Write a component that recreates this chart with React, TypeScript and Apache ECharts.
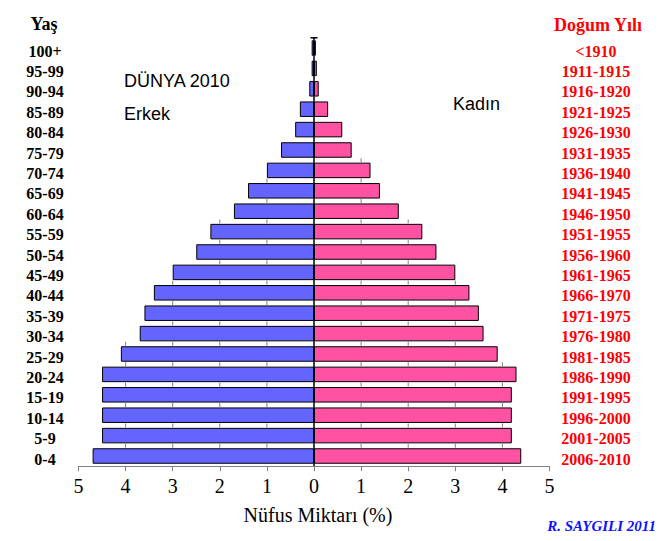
import React, { useEffect, useRef } from "react";
import * as echarts from "echarts";

const ages = ["0-4", "5-9", "10-14", "15-19", "20-24", "25-29", "30-34", "35-39", "40-44", "45-49", "50-54", "55-59", "60-64", "65-69", "70-74", "75-79", "80-84", "85-89", "90-94", "95-99", "100+"];
const birthYears = ["2006-2010", "2001-2005", "1996-2000", "1991-1995", "1986-1990", "1981-1985", "1976-1980", "1971-1975", "1966-1970", "1961-1965", "1956-1960", "1951-1955", "1946-1950", "1941-1945", "1936-1940", "1931-1935", "1926-1930", "1921-1925", "1916-1920", "1911-1915", "<1910"];
const male = [4.7, 4.5, 4.5, 4.5, 4.5, 4.1, 3.7, 3.6, 3.4, 3.0, 2.5, 2.2, 1.7, 1.4, 1.0, 0.7, 0.4, 0.3, 0.1, 0.05, 0.05];
const female = [4.4, 4.2, 4.2, 4.2, 4.3, 3.9, 3.6, 3.5, 3.3, 3.0, 2.6, 2.3, 1.8, 1.4, 1.2, 0.8, 0.6, 0.3, 0.1, 0.06, 0.04];
const gridValues = [1, 2, 3, 4];

const SERIF = "'Liberation Serif', 'Times New Roman', serif";
const SANS = "'Liberation Sans', Arial, sans-serif";
const BAR_W = 15.5;

export default function App() {
  const ref = useRef<HTMLDivElement>(null);
  useEffect(() => {
    if (!ref.current) return;
    const chart = echarts.init(ref.current, null, { renderer: "svg" });

    const gridSegs: number[][] = [];
    ages.forEach((_, i) => {
      gridValues.forEach((k) => {
        if (female[i] > k) gridSegs.push([k, i]);
        if (male[i] > k) gridSegs.push([-k, i]);
      });
    });

    const labelRich = (color: string) => ({
      t: {
        padding: [6, 0, 0, 0],
        fontFamily: SERIF,
        fontWeight: "bold",
        fontSize: 16,
        color,
      },
    });

    const option: any = {
      animation: false,
      backgroundColor: "#ffffff",
      grid: { left: 78.5, right: 116.5, top: 37.8, bottom: 74.8, containLabel: false, outerBoundsMode: "none" },
      xAxis: {
        type: "value",
        min: -5,
        max: 5,
        interval: 1,
        name: "Nüfus Miktarı (%)",
        nameLocation: "middle",
        nameGap: 39,
        nameTextStyle: { fontFamily: SERIF, fontSize: 20, color: "#000", padding: [0, 0, 0, 8] },
        axisLine: { show: true, onZero: false, lineStyle: { color: "#808080", width: 1 } },
        axisTick: { show: true, length: 5, lineStyle: { color: "#808080", width: 1 } },
        splitLine: { show: false },
        axisLabel: {
          margin: 10,
          fontFamily: SERIF,
          fontSize: 20,
          color: "#000",
          formatter: (v: number) => String(Math.abs(v)),
        },
      },
      yAxis: [
        {
          type: "category",
          data: ages,
          position: "left",
          axisLine: { show: false, onZero: false },
          axisTick: { show: false },
          splitLine: { show: false },
          axisLabel: {
            align: "center",
            margin: 33.5,
            formatter: (v: string) => `{t|${v}}`,
            rich: labelRich("#000"),
          },
        },
        {
          type: "category",
          data: birthYears,
          position: "right",
          axisLine: { show: false, onZero: false },
          axisTick: { show: false },
          splitLine: { show: false },
          axisLabel: {
            align: "center",
            margin: 46.5,
            formatter: (v: string) => `{t|${v}}`,
            rich: labelRich("#ff0000"),
          },
        },
        {
          type: "category",
          data: ages,
          axisLine: {
            show: true,
            onZero: true,
            lineStyle: { color: "#000", width: 1.5 },
            symbol: ["none", "rect"],
            symbolSize: [7, 1.5],
          },
          axisTick: { show: false },
          axisLabel: { show: false },
          splitLine: { show: false },
        },
      ],
      series: [
        {
          type: "custom",
          name: "grid",
          yAxisIndex: 0,
          z: 1,
          silent: true,
          encode: { x: 0, y: 1 },
          data: gridSegs,
          renderItem: (params: any, api: any) => {
            const v = api.value(0);
            const i = api.value(1);
            const p = api.coord([v, i]);
            const band = api.size([0, 1])[1];
            const half = BAR_W / 2 + 0.5;
            return {
              type: "line",
              shape: { x1: p[0], y1: p[1] - half, x2: p[0], y2: p[1] - band + half },
              style: { stroke: "#808080", lineWidth: 1 },
              silent: true,
            };
          },
        },
        {
          type: "bar",
          name: "Erkek",
          stack: "pop",
          yAxisIndex: 0,
          barWidth: BAR_W,
          z: 2,
          data: male.map((v) => -v),
          itemStyle: { color: "#6464FF", borderColor: "#000", borderWidth: 1 },
        },
        {
          type: "bar",
          name: "Kadın",
          stack: "pop",
          yAxisIndex: 0,
          barWidth: BAR_W,
          z: 2,
          data: female,
          itemStyle: { color: "#FF52A3", borderColor: "#000", borderWidth: 1 },
        },
      ],
      graphic: [
        {
          type: "text",
          x: 44,
          y: 24,
          style: { text: "Yaş", font: `bold 18px ${SERIF}`, fill: "#000", align: "center", verticalAlign: "middle" },
        },
        {
          type: "text",
          x: 598,
          y: 24.5,
          style: { text: "Doğum Yılı", font: `bold 18px ${SERIF}`, fill: "#ff0000", align: "center", verticalAlign: "middle" },
        },
        {
          type: "text",
          x: 124,
          y: 80.5,
          style: { text: "DÜNYA 2010", font: `18px ${SANS}`, fill: "#000", align: "left", verticalAlign: "middle" },
        },
        {
          type: "text",
          x: 124,
          y: 113.5,
          style: { text: "Erkek", font: `18px ${SANS}`, fill: "#000", align: "left", verticalAlign: "middle" },
        },
        {
          type: "text",
          x: 453,
          y: 103.5,
          style: { text: "Kadın", font: `18px ${SANS}`, fill: "#000", align: "left", verticalAlign: "middle" },
        },
        {
          type: "text",
          x: 656,
          y: 526,
          style: { text: "R. SAYGILI 2011", font: `italic bold 15px ${SERIF}`, fill: "#1010ff", align: "right", verticalAlign: "middle" },
        },
      ],
    };
    chart.setOption(option);
    return () => chart.dispose();
  }, []);
  return <div ref={ref} style={{ position: "fixed", left: 0, top: 0, width: 666, height: 541 }} />;
}
